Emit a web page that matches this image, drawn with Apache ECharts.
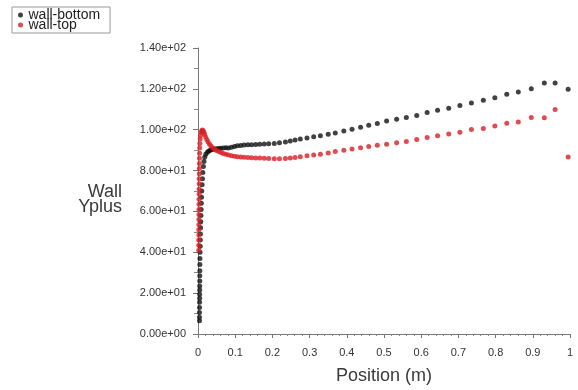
<!DOCTYPE html>
<html>
<head>
<meta charset="utf-8">
<script src="https://cdn.jsdelivr.net/npm/echarts@6/dist/echarts.min.js"></script>
<style>html,body{margin:0;padding:0;background:#fff;}#c{width:578px;height:390px;}</style>
</head>
<body>
<div id="c"></div>
<script>
var seriesNames = ['wall-bottom', 'wall-top'];
var xTickLabels = ['0','0.1','0.2','0.3','0.4','0.5','0.6','0.7','0.8','0.9','1'];
var yTickLabels = ['0.00e+00','2.00e+01','4.00e+01','6.00e+01','8.00e+01','1.00e+02','1.20e+02','1.40e+02'];

var xBottom = [0.004,0.004,0.004,0.0042,0.0042,0.0044,0.0044,0.0046,0.0046,0.0048,0.0048,0.005,0.005,0.0052,0.0055,0.006,0.0062,0.0066,0.007,0.0075,0.008,0.0085,0.009,0.0095,0.010,0.011,0.012,0.013,0.0145,0.016,0.018,0.021,0.025,0.029,0.033,0.038,0.043,0.049,0.055,0.061,0.068,0.075,0.082,0.090,0.098,0.106,0.115,0.124,0.134,0.144,0.155,0.166,0.178,0.190,0.205,0.219,0.235,0.248,0.261,0.275,0.293,0.311,0.329,0.350,0.369,0.392,0.414,0.437,0.459,0.482,0.507,0.534,0.560,0.588,0.616,0.644,0.674,0.704,0.735,0.767,0.798,0.830,0.861,0.896,0.931,0.960,0.995];
var yBottom = [6.5,8.2,10.5,13,15.5,17.5,19.5,21.5,23.5,26,28.5,31,34,37,40,43,46,49,52,55,58,61,64,67,70,73,76,79,82,84.5,86.5,88,89,89.6,90,90.3,90.5,90.7,90.8,90.9,91.0,91.2,91.1,91.4,91.8,92.1,92.3,92.5,92.6,92.7,92.8,92.9,93.0,93.1,93.2,93.6,94.0,94.5,95.0,95.5,96.0,96.5,97.0,97.8,98.4,99.4,100.2,101.2,102.2,103.0,104.3,105.1,106.0,106.9,108.4,109.5,110.5,111.8,113.1,114.4,115.6,117.4,118.5,120.1,122.9,122.9,119.8];

var xTop = [0.002,0.002,0.002,0.0022,0.0022,0.0024,0.0024,0.0026,0.0026,0.0028,0.0028,0.003,0.003,0.0032,0.0032,0.0034,0.0036,0.0038,0.004,0.0043,0.0046,0.005,0.0058,0.007,0.0085,0.010,0.012,0.014,0.016,0.018,0.021,0.024,0.027,0.031,0.035,0.040,0.045,0.050,0.056,0.062,0.068,0.075,0.082,0.090,0.098,0.106,0.115,0.124,0.134,0.144,0.155,0.166,0.178,0.190,0.205,0.219,0.235,0.248,0.261,0.275,0.293,0.311,0.329,0.350,0.369,0.392,0.414,0.437,0.459,0.482,0.507,0.534,0.560,0.588,0.616,0.644,0.674,0.704,0.735,0.767,0.798,0.830,0.861,0.896,0.931,0.960,0.995];
var yTop = [41,43.5,46,48.5,51,53.5,56,58.5,61,63.5,66,68.5,71,73.5,76,78.5,81,83.5,86,88.5,91,93.3,95.5,97.3,98.7,99.5,99.8,99.4,98.6,97.6,96.3,95.1,94.0,92.9,92.0,91.1,90.4,89.8,89.3,88.8,88.4,88.0,87.6,87.3,87.0,86.8,86.6,86.5,86.4,86.3,86.2,86.1,86.0,85.9,85.8,85.8,85.9,86.1,86.4,86.8,87.2,87.6,88.0,88.6,89.3,90.0,90.6,91.2,91.8,92.4,92.9,93.6,94.2,95.2,96.2,97.0,97.9,98.8,100.1,100.6,101.8,103.2,103.8,106.0,105.8,109.9,86.7];

function zip(a, b) { return a.map(function (v, i) { return [v, b[i]]; }); }

var FONT = 'Liberation Sans, Arial, sans-serif';
var chart = echarts.init(document.getElementById('c'), null, {renderer: 'canvas'});
chart.setOption({
  animation: false,
  backgroundColor: '#fff',
  grid: {left: 198, right: 8, top: 48, bottom: 56, containLabel: false},
  legend: {
    orient: 'vertical', left: 12, top: 7,
    itemGap: -4, itemWidth: 10, itemHeight: 5,
    borderColor: '#999', borderWidth: 1, padding: [1, 10, 1, 6],
    icon: 'circle',
    textStyle: {fontFamily: FONT, fontSize: 14, lineHeight: 14, color: '#222', padding: [0, 0, 0, -2]},
    data: seriesNames
  },
  graphic: [{
    type: 'text',
    style: {x: 122, y: 185, text: 'Wall\nYplus', align: 'right', verticalAlign: 'top',
      font: '18px ' + FONT, lineHeight: 15, fill: '#3a3a3a'}
  }],
  xAxis: {
    type: 'value', min: 0, max: 1, interval: 0.1,
    name: 'Position (m)', nameLocation: 'middle', nameGap: 33,
    nameTextStyle: {fontFamily: FONT, fontSize: 18, color: '#3a3a3a'},
    axisLine: {show: true, lineStyle: {color: '#777', width: 1}},
    axisTick: {show: true, length: 4, lineStyle: {color: '#777'}},
    minorTick: {show: true, splitNumber: 5, length: 2, lineStyle: {color: '#888'}},
    splitLine: {show: false},
    axisLabel: {fontFamily: FONT, fontSize: 11, color: '#333', margin: 13,
      formatter: function (v) { return xTickLabels[Math.round(v * 10)]; }}
  },
  yAxis: {
    type: 'value', min: 0, max: 140, interval: 20,
    axisLine: {show: true, lineStyle: {color: '#777', width: 1}},
    axisTick: {show: true, length: 5, lineStyle: {color: '#777'}},
    minorTick: {show: true, splitNumber: 2, length: 4, lineStyle: {color: '#888'}},
    splitLine: {show: false},
    axisLabel: {fontFamily: FONT, fontSize: 11, color: '#333', margin: 12,
      formatter: function (v) { return yTickLabels[Math.round(v / 20)]; }}
  },
  series: [
    {name: seriesNames[0], type: 'scatter', symbol: 'circle', symbolSize: 5,
      itemStyle: {color: '#111'}, data: zip(xBottom, yBottom)},
    {name: seriesNames[1], type: 'scatter', symbol: 'circle', symbolSize: 5,
      itemStyle: {color: '#d91e24'}, data: zip(xTop, yTop)}
  ]
});
</script>
</body>
</html>
